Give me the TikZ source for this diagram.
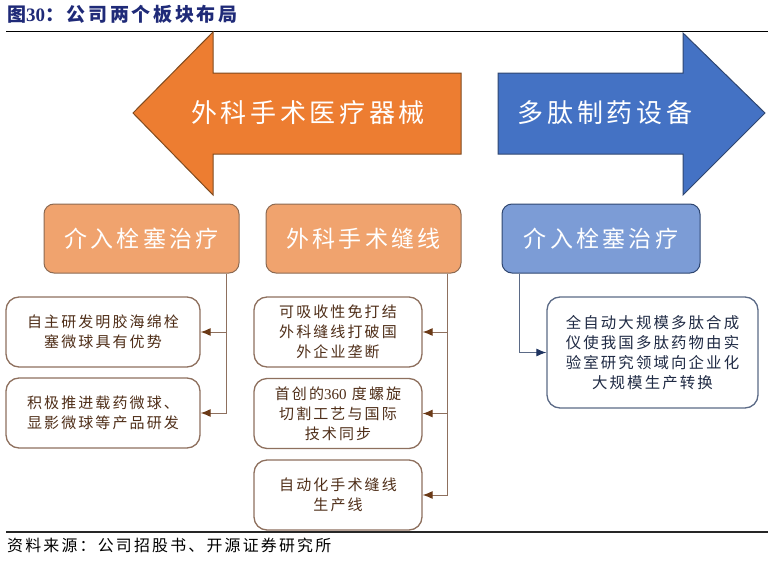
\documentclass[tikz,border=0pt]{standalone}
\usepackage{fontspec}
\setmainfont[LetterSpace=14]{Noto Sans CJK SC}
\newfontfamily\numfont{Liberation Serif}
\usetikzlibrary{arrows.meta}
\definecolor{titleblue}{HTML}{1F2A78}
\definecolor{arroworange}{HTML}{ED7D31}
\definecolor{arrowedge}{HTML}{7F4A1E}
\definecolor{arrowblue}{HTML}{4472C4}
\definecolor{blueedge}{HTML}{2F4670}
\definecolor{boxorange}{HTML}{F0A36E}
\definecolor{boxbrown}{HTML}{8C6A52}
\definecolor{itembrown}{HTML}{8E705E}
\definecolor{itemtext}{HTML}{4F2E18}
\definecolor{tipbrown}{HTML}{6B3A17}
\definecolor{boxblue}{HTML}{7C9CD6}
\definecolor{itemblue}{HTML}{5B6A86}
\definecolor{itemnavy}{HTML}{1F2A44}
\definecolor{tipnavy}{HTML}{1F3460}
\tikzset{
  topic/.style={draw=boxbrown, fill=boxorange, line width=1pt, rounded corners=10pt,
    minimum width=195pt, minimum height=69pt, text=white, font=\fontsize{23}{23}\selectfont},
  itembox/.style={draw=itembrown, fill=white, line width=1.3pt, rounded corners=13pt,
    minimum height=70pt, align=center, text=itemtext, font=\fontsize{15}{20}\selectfont},
  oconn/.style={draw=itembrown, line width=1pt, -{Latex[length=10pt,width=8pt,color=tipbrown]}},
  bconn/.style={draw=itemblue, line width=1pt, -{Latex[length=10pt,width=8pt,color=tipnavy]}}
}
\begin{document}
\begin{tikzpicture}[x=1pt,y=-1pt]
		\useasboundingbox (0,0) rectangle (774,562);
		% Draw title and rules
		\node[anchor=base west, inner sep=0pt, text=titleblue, font=\fontsize{19}{19}\selectfont\bfseries] (title) at (7,21) {图{\numfont\bfseries 30}：公司两个板块布局};
		\draw[line width=0.8pt] (6,31) -- (768,31);
		\draw[line width=1.3pt, color=black!85] (6,532) -- (768,532);
		\node[anchor=base west, inner sep=0pt, font=\fontsize{15.9}{16}\selectfont] (source) at (7,551) {资料来源：公司招股书、开源证券研究所};
		% Draw the two big arrows
		\draw[fill=arroworange, draw=arrowedge, line width=1pt] (461,73) -- (213,73) -- (213,32) -- (133,113) -- (213,195) -- (213,154) -- (461,154) -- cycle;
		\node[text=white, font=\fontsize{26}{26}\selectfont] (surgery) at (308,113) {外科手术医疗器械};
		\draw[fill=arrowblue, draw=blueedge, line width=1pt] (498,73) -- (683,73) -- (683,33) -- (765,113) -- (683,195) -- (683,154) -- (498,154) -- cycle;
		\node[text=white, font=\fontsize{26}{26}\selectfont] (peptide) at (605,113) {多肽制药设备};
		% Draw the topic boxes
		\node[topic] (embol) at (141.5,238.5) {介入栓塞治疗};
		\node[topic] (suture) at (363.5,238.5) {外科手术缝线};
		\node[topic, fill=boxblue, draw=blueedge, minimum width=198pt] (bembol) at (601,238.5) {介入栓塞治疗};
		% Draw the item boxes
		\foreach \name/\y/\desc in {ld1/332/自主研发明胶海绵栓\\塞微球具有优势,
			ld2/413/积极推进载药微球、\\显影微球等产品研发}
		{\node[itembox, minimum width=194pt] (\name) at (103,\y) {\desc};}
		\foreach \name/\y/\desc in {rd1/332/可吸收性免打结\\外科缝线打破国\\外企业垄断,
			rd2/413.5/首创的{\numfont 360} 度螺旋\\切割工艺与国际\\技术同步,
			rd3/495/自动化手术缝线\\生产线}
		{\node[itembox, minimum width=168pt] (\name) at (338,\y) {\desc};}
		\node[itembox, draw=itemblue, text=itemnavy, minimum width=211pt, minimum height=111pt, font=\fontsize{15.4}{20}\selectfont] (bd) at (652.5,352.5) {全自动大规模多肽合成\\仪使我国多肽药物由实\\验室研究领域向企业化\\大规模生产转换};
		% Draw connectors
		\draw[oconn] ([xshift=-13pt]embol.south east) |- (ld1.east);
		\draw[oconn] ([xshift=-13pt]embol.south east) |- (ld2.east);
		\foreach \name in {rd1,rd2,rd3}
		{\draw[oconn] ([xshift=-14pt]suture.south east) |- (\name.east);}
		\draw[bconn] ([xshift=18pt]bembol.south west) |- (bd.west);
	\end{tikzpicture}
\end{document}
